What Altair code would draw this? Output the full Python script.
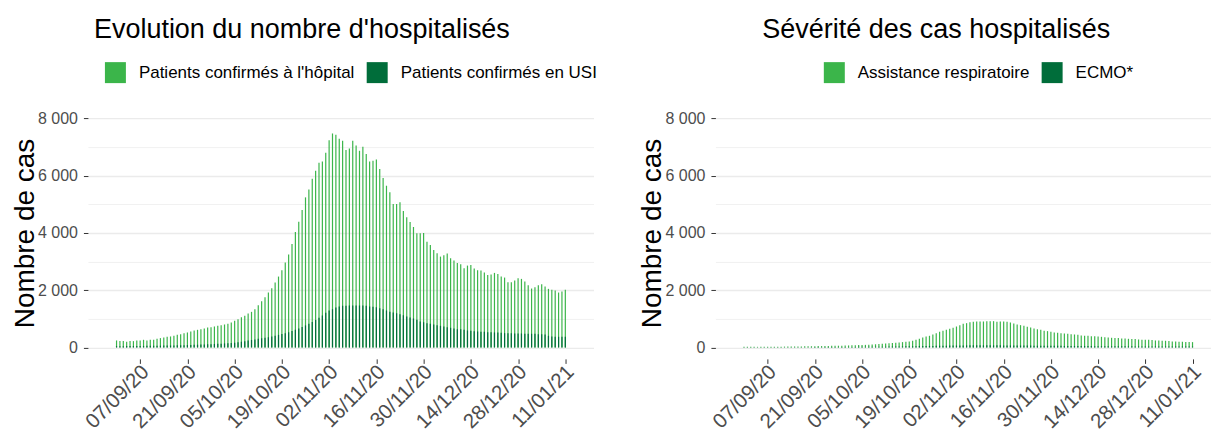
import altair as alt
import pandas as pd

# ---------------- data ----------------
dates = pd.date_range("2020-08-31", "2021-01-11", freq="D").strftime("%Y-%m-%d").tolist()

hospital = [
    244, 221, 221, 198, 221, 221, 244, 244, 267, 244,
    267, 267, 302, 326, 349, 372, 384, 407, 442, 465,
    500, 523, 558, 593, 616, 640, 663, 698, 709, 733,
    756, 779, 802, 826, 872, 930, 989, 1058, 1105, 1186,
    1244, 1337, 1477, 1617, 1756, 1919, 2070, 2268, 2477, 2698,
    2966, 3245, 3617, 4036, 4396, 4803, 5245, 5524, 5896, 6176,
    6455, 6501, 6804,
    7245, 7478, 7432, 7292, 7222, 6897, 6955, 7222, 7059, 6873,
    7013, 6757, 6501, 6524, 6571, 6234, 5920, 5652, 5420, 5013,
    5013, 5071, 4768, 4547, 4385, 4210, 3989, 3989, 4001, 3698,
    3582, 3408, 3291, 3175, 3222, 3280, 3117, 3035, 2954, 2908,
    2768, 2861, 2884, 2756, 2698, 2687, 2617, 2535, 2547, 2605,
    2570, 2477, 2442, 2279, 2279, 2338, 2419, 2396, 2303, 2175,
    2059, 2105, 2175, 2210, 2128, 2047, 2012, 1989, 1919, 1954,
    2012,
]

icu = [
    45, 45, 45, 48, 48, 50, 50, 52, 52, 55,
    55, 58, 60, 62, 64, 66, 68, 70, 73, 76,
    80, 84, 88, 92, 96, 100, 105, 110, 115, 120,
    125, 132, 140, 148, 156, 165, 180, 200, 220, 240,
    260, 280, 300, 320, 340, 360, 385, 410, 440, 470,
    500, 535, 575, 620, 665, 715, 770, 830, 890, 960,
    1040, 1120, 1210,
    1291, 1337, 1396, 1430, 1454, 1454, 1465, 1465, 1465, 1465,
    1465, 1454, 1430, 1419, 1407, 1372, 1337, 1291, 1244, 1221,
    1198, 1163, 1128, 1082, 1047, 1012, 965, 907, 884, 849,
    826, 802, 779, 756, 733, 709, 686, 663, 640, 640,
    616, 593, 582, 570, 558, 547, 547, 535, 535, 523,
    523, 512, 500, 500, 500, 488, 488, 488, 477, 477,
    477, 477, 465, 465, 454, 407, 384, 372, 372, 372,
    372,
]

respiratory = [
    20, 20, 20, 22, 22, 22, 24, 24, 25, 25,
    27, 28, 30, 30, 32, 34, 35, 37, 38, 40,
    42, 44, 46, 48, 50, 52, 55, 58, 60, 63,
    66, 70, 74, 78, 82, 86, 90, 96, 102, 110,
    118, 126, 134, 144, 152, 162,
    174, 186, 198, 209, 233, 267, 302, 349, 384, 407,
    453, 500, 546, 581, 616, 651, 686, 732, 779, 825,
    849, 884, 895, 907, 907, 907, 918, 918, 918, 895,
    907, 907, 895, 872, 837, 802, 779, 756, 721, 698,
    663, 640, 616, 581, 570, 546, 523, 512, 500, 488,
    477, 465, 453, 442, 419, 407, 407, 395, 395, 384,
    372, 360, 349, 337, 326, 326, 314, 314, 302, 291,
    291, 279, 267, 267, 267, 256, 244, 244, 233, 233,
    221, 209, 209, 198, 198, 186, 186, 186,
]

ecmo = [
    6, 6, 6, 6, 7, 7, 7, 7, 8, 8,
    8, 8, 9, 9, 9, 10, 10, 10, 11, 11,
    12, 12, 12, 13, 13, 14, 14, 15, 15, 16,
    17, 17, 18, 19, 20, 21, 22, 23, 24, 25,
    26, 27, 28, 30, 31, 33, 34, 36, 38, 40,
    42, 44, 46, 48, 50, 52, 54, 56, 58, 60,
    62, 64, 66, 68, 70, 71, 72, 73, 74, 74,
    75, 75, 75, 75, 74, 74, 73, 72, 71, 70,
    69, 68, 67, 66, 65, 64, 63, 62, 61, 60,
    59, 58, 57, 56, 55, 54, 53, 52, 51, 50,
    49, 48, 47, 46, 45, 44, 43, 42, 42, 41,
    40, 40, 39, 39, 38, 38, 37, 37, 36, 36,
    35, 35, 34, 34, 33, 33, 32, 32, 31, 31, 30, 30, 29, 29,
]

left_series = ["Patients confirmés à l'hôpital", "Patients confirmés en USI"]
right_series = ["Assistance respiratoire", "ECMO*"]
left_title = "Evolution du nombre d'hospitalisés"
right_title = "Sévérité des cas hospitalisés"
y_title = "Nombre de cas"
tick_dates = [(2020, 9, 7), (2020, 9, 21), (2020, 10, 5), (2020, 10, 19), (2020, 11, 2),
              (2020, 11, 16), (2020, 11, 30), (2020, 12, 14), (2020, 12, 28), (2021, 1, 11)]
y_ticks = [0, 1000, 2000, 3000, 4000, 5000, 6000, 7000, 8000]

# ---------------- style ----------------
FONT = "Liberation Sans"
COLORS = ["#3BB54A", "#006D3A"]
BAR_W = 1.2
PLOT_H = 252


def dt(y, m, d, h=0):
    return alt.DateTime(year=y, month=m, date=d, hours=h, utc=True)


def panel(series, vals_a, vals_b, title, title_dx, legend_x, width, x_end):
    n = len(dates)
    df = pd.DataFrame({
        "date": dates + dates,
        "serie": [series[0]] * n + [series[1]] * n,
        "valeur": vals_a + vals_b,
        "ordre": [0] * n + [1] * n,
    })
    x_axis = alt.Axis(
        values=[dt(*t) for t in tick_dates], format="%d/%m/%y", labelAngle=-45,
        labelAlign="right", labelBaseline="top", labelFontSize=20.5, labelFont=FONT,
        labelColor="#4D4D4D", labelOverlap=False, labelFlush=False, labelPadding=-2,
        labelOffset=-2,
        tickSize=4.5, tickColor="#333333", tickWidth=1, domain=False, grid=False, title=None,
    )
    y_axis = alt.Axis(
        values=y_ticks,
        labelExpr="datum.value % 2000 === 0 ? replace(format(datum.value, ','), ',', ' ') : ''",
        labelFontSize=16, labelFont=FONT, labelColor="#4D4D4D", labelPadding=6,
        tickSize=4.5, tickColor="#333333", tickWidth=1,
        tickOpacity={"condition": {"test": "datum.value % 2000 === 0", "value": 1}, "value": 0},
        domain=False, grid=True, gridColor="#EBEBEB",
        gridWidth={"condition": {"test": "datum.value % 2000 === 0", "value": 1.4}, "value": 0.7},
        title=y_title, titleFontSize=28, titleFont=FONT, titleFontWeight="normal",
        titleColor="black", titlePadding=-2,
    )
    legend = alt.Legend(
        orient="none", legendX=legend_x, legendY=-45, direction="horizontal", title=None,
        symbolType="square", symbolSize=441, symbolStrokeWidth=0, labelFontSize=17,
        labelFont=FONT, labelColor="black", labelLimit=500, labelOffset=13,
        columnPadding=12, padding=0,
    )
    return alt.Chart(df).mark_bar(size=BAR_W).encode(
        x=alt.X("date:T", scale=alt.Scale(type="utc", domain=[dt(2020, 8, 24), x_end]), axis=x_axis),
        y=alt.Y("valeur:Q", stack=None,
                scale=alt.Scale(domain=[-400, 8400], nice=False, zero=False), axis=y_axis),
        color=alt.Color("serie:N", scale=alt.Scale(domain=series, range=COLORS), legend=legend),
        order=alt.Order("ordre:Q"),
    ).properties(
        width=width, height=PLOT_H,
        title=alt.TitleParams(title, fontSize=27, font=FONT, fontWeight="normal", color="black",
                              anchor="start", frame="group", dx=title_dx, offset=-3,
                              baseline="alphabetic"),
    )


left = panel(left_series, hospital, icu, left_title, 6, 17, 506, dt(2021, 1, 17, 21))
right = panel(right_series, respiratory, ecmo, right_title, 47, 108.5, 496, dt(2021, 1, 15, 0))

chart = alt.hconcat(left, right, spacing=41).resolve_scale(
    color="independent", x="independent", y="independent"
).resolve_legend(color="independent").properties(
    padding={"left": 3, "top": 8, "right": 0, "bottom": 0}
).configure_view(stroke=None)

chart.save("out.html", embed_options={"renderer": "svg", "actions": False})
